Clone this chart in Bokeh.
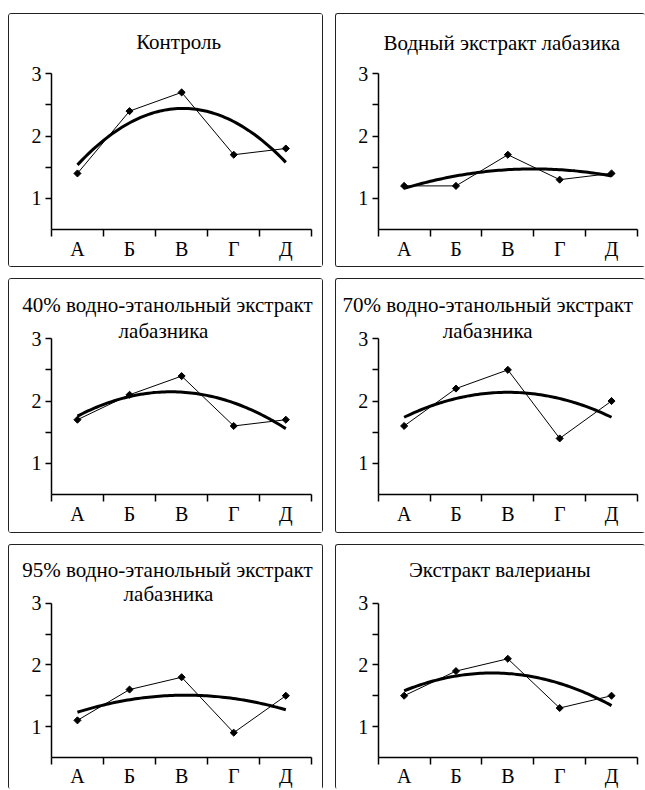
import numpy as np
from bokeh.plotting import figure
from bokeh.models import Range1d, FixedTicker, Label
from bokeh.layouts import column, row
from bokeh.embed import file_html
from bokeh.resources import INLINE

# ---------------- data ----------------
categories = ["А", "Б", "В", "Г", "Д"]
cat_pos = [1, 2, 3, 4, 5]
cat_bounds = [0.5, 1.5, 2.5, 3.5, 4.5, 5.5]
y_major = [1, 2, 3]
y_minor = [1.5, 2.5]
y_min, y_max = 0.5, 3

control = [1.4, 2.4, 2.7, 1.7, 1.8]
water = [1.2, 1.2, 1.7, 1.3, 1.4]
eth40 = [1.7, 2.1, 2.4, 1.6, 1.7]
eth70 = [1.6, 2.2, 2.5, 1.4, 2.0]
eth95 = [1.1, 1.6, 1.8, 0.9, 1.5]
valerian = [1.5, 1.9, 2.1, 1.3, 1.5]

title_control = ["Контроль"]
title_water = ["Водный экстракт лабазика"]
title_40 = ["40% водно-этанольный экстракт", "лабазника"]
title_70 = ["70% водно-этанольный экстракт", "лабазника"]
title_95 = ["95% водно-этанольный экстракт", "лабазника"]
title_val = ["Экстракт валерианы"]

# ---------------- style / layout ----------------
FONT = "Liberation Serif"
FS = "20px"
TFS = "21px"
INK = "#000000"
BW = 1.5  # panel border width

# plot-area pixel placement inside each panel (from panel outer left / top)
AX_LEFT, AX_RIGHT = 43, 301
ROW_Y = {0: (60, 214), 1: (60, 214), 2: (59, 212)}   # (px of y=3, px of y=0.5)

# title placement: (centre px from panel left, baseline px from panel top)
title_pos = {
    0: [(169, 29)],
    1: [(166, 30)],
    2: [(158, 27), (154, 52)],
    3: [(152, 27), (152, 52)],
    4: [(158, 26), (159, 50)],
    5: [(164, 26)],
}


def trend(vals):
    coef = np.polyfit(cat_pos, vals, 2)
    xs = np.linspace(cat_pos[0], cat_pos[-1], 80)
    return xs, np.polyval(coef, xs)


def panel(idx, rowi, vals, lines, width, height, right_col, bottom_row):
    bl, bt = BW, BW
    br = 0 if right_col else BW
    bb = 0 if bottom_row else BW
    fw = width - bl - br
    fh = height - bt - bb

    # x mapping (content px -> data)
    xa0, xa1 = AX_LEFT - bl, AX_RIGHT - bl
    xs = (cat_bounds[-1] - cat_bounds[0]) / (xa1 - xa0)
    x_start = cat_bounds[0] - xa0 * xs
    x_end = cat_bounds[-1] + (fw - xa1) * xs
    # y mapping
    yt, yb = ROW_Y[rowi]
    yt, yb = yt - bt, yb - bt
    ys = (y_max - y_min) / (yb - yt)
    y_end = y_max + yt * ys
    y_start = y_min - (fh - yb) * ys

    def dx(px):
        return x_start + (px - bl) * xs

    def dy(px):
        return y_end - (px - bt) * ys

    p = figure(width=width, height=height,
               x_range=Range1d(x_start, x_end), y_range=Range1d(y_start, y_end),
               min_border=0, output_backend="svg", toolbar_location=None,
               outline_line_color=None, background_fill_color="white",
               border_fill_color="white")
    p.xgrid.visible = False
    p.ygrid.visible = False

    xa = p.xaxis[0]
    xa.fixed_location = y_min
    xa.bounds = (cat_bounds[0], cat_bounds[-1])
    xa.ticker = FixedTicker(ticks=cat_pos, minor_ticks=cat_bounds)
    xa.major_label_overrides = {c: lab for c, lab in zip(cat_pos, categories)}
    xa.major_tick_out = 0
    xa.major_tick_in = 0
    xa.minor_tick_out = 7
    xa.minor_tick_in = 0
    xa.major_label_standoff = 1

    ya = p.yaxis[0]
    ya.fixed_location = cat_bounds[0]
    ya.bounds = (y_min, y_max)
    ya.ticker = FixedTicker(ticks=y_major, minor_ticks=y_minor)
    ya.major_tick_out = 6
    ya.major_tick_in = 0
    ya.minor_tick_out = 6
    ya.minor_tick_in = 0
    ya.major_label_standoff = 4

    for ax in (xa, ya):
        ax.axis_line_color = INK
        ax.axis_line_width = 1.5
        ax.major_tick_line_color = INK
        ax.major_tick_line_width = 1.5
        ax.minor_tick_line_color = INK
        ax.minor_tick_line_width = 1.5
        ax.major_label_text_font = FONT
        ax.major_label_text_font_size = FS
        ax.major_label_text_color = INK

    p.line(cat_pos, vals, line_color=INK, line_width=1)
    tx, ty = trend(vals)
    p.line(tx, ty, line_color=INK, line_width=3)
    p.scatter(cat_pos, vals, marker="square", angle=np.pi / 4, size=5,
              fill_color=INK, line_color=INK)

    for text, (cx, by) in zip(lines, title_pos[idx]):
        p.add_layout(Label(x=dx(cx), y=dy(by), text=text,
                           text_align="center", text_baseline="alphabetic",
                           text_font=FONT, text_font_size=TFS, text_color=INK))

    border = f"{BW}px solid #222"
    st = {"border-top": border, "border-left": border,
          "border-radius": "3px", "box-sizing": "border-box"}
    if not right_col:
        st["border-right"] = border
    if not bottom_row:
        st["border-bottom"] = border
    p.styles = st
    return p


W1, W2 = 315, 310
H1, H2, H3 = 254, 255, 245

p1 = panel(0, 0, control, title_control, W1, H1, False, False)
p2 = panel(1, 0, water, title_water, W2, H1, True, False)
p3 = panel(2, 1, eth40, title_40, W1, H2, False, False)
p4 = panel(3, 1, eth70, title_70, W2, H2, True, False)
p5 = panel(4, 2, eth95, title_95, W1, H3, False, True)
p6 = panel(5, 2, valerian, title_val, W2, H3, True, True)

layout = column(row(p1, p2, spacing=12), row(p3, p4, spacing=12),
                row(p5, p6, spacing=12), spacing=11, margin=(13, 0, 0, 8))

open("out.html", "w").write(file_html(layout, INLINE))
